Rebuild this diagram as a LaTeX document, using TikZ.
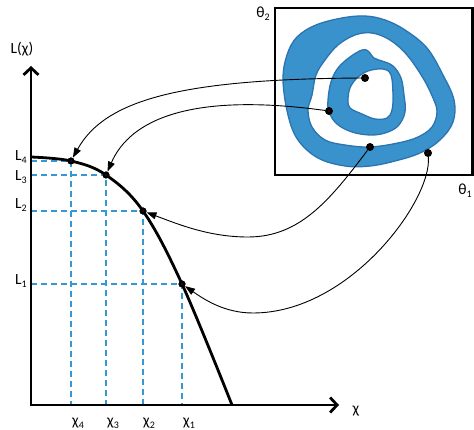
\documentclass[tikz,border=0pt]{standalone}
\usepackage{fontspec}
\setmainfont{Carlito}
\usetikzlibrary{arrows.meta}
\definecolor{ringblue}{RGB}{58,146,205}
\definecolor{ringedge}{RGB}{42,116,176}
\definecolor{gridblue}{RGB}{52,152,212}
\newcommand{\idx}[1]{\raisebox{-0.4ex}{\fontsize{10}{10}\selectfont #1}}

\begin{document}
\begin{tikzpicture}[
  x=1pt,
  y=-1pt,
  every node/.style={font=\fontsize{15.5}{15.5}\selectfont, inner sep=0pt},
  axis/.style={line width=2.8pt, {Straight Barb[length=7pt,width=15pt]}-{Straight Barb[length=7pt,width=15pt]}},
  lcurve/.style={line width=2.8pt},
  frame/.style={line width=2.8pt},
  guide/.style={gridblue, line width=1.1pt, dash pattern=on 6pt off 4pt},
  dot/.style={circle, fill=black, minimum size=8pt,
    path picture={\fill[red!85!black] (path picture bounding box.center) circle (0.7pt);}},
  link/.style={line width=0.9pt, -{Triangle[length=10pt,width=7pt]}},
  band/.style={fill=ringblue, draw=ringedge, line width=1.3pt, even odd rule}
]
\useasboundingbox (0,0) rectangle (474,430);

\coordinate (ytop) at (31,66);
\coordinate (o) at (31,405);
\coordinate (xend) at (339,405);

\draw[band] plot[smooth cycle, tension=0.6] coordinates {
  (283,80) (287,55) (297,37) (316,25) (342,18) (365,16) (385,20) (405,30)
  (427,48) (443,75) (454,100) (453,122) (440,140) (420,153) (395,161)
  (370,166) (345,166) (318,158) (298,140) (288,115)}
  plot[smooth cycle, tension=0.6] coordinates {
  (312,95) (316,75) (325,60) (338,45) (355,35) (372,33) (390,40) (407,55)
  (423,78) (433,98) (437,112) (432,127) (418,137) (398,143) (370,147)
  (345,145) (325,140) (312,127) (308,110)};
\draw[band] plot[smooth cycle, tension=0.6] coordinates {
  (328,100) (331,82) (338,68) (350,57) (362,50) (368,51) (374,58) (382,61)
  (393,66) (401,78) (404,95) (405,112) (398,126) (385,133) (370,135)
  (352,132) (337,124) (329,112)}
  plot[smooth cycle, tension=0.6] coordinates {
  (348,100) (350,88) (357,78) (368,71) (383,69) (391,75) (393,95)
  (392,110) (387,118) (375,119) (362,114) (350,108)};
\draw[frame] (275,8) rectangle (472.5,175);

\node (th2) at (263,14) {θ\idx{2}};
\node (th1) at (465,191) {θ\idx{1}};

\node[dot] (d1) at (365,78) {};
\node[dot] (d2) at (329,111) {};
\node[dot] (d3) at (370,147) {};
\node[dot] (d4) at (428,153) {};

\node[dot, minimum size=7pt] (p1) at (182,284) {};
\node[dot, minimum size=7pt] (p2) at (143,211) {};
\node[dot, minimum size=7pt] (p3) at (106,175) {};
\node[dot, minimum size=7pt] (p4) at (71,161) {};

\draw[guide] (o |- p1) -- (p1.center) -- (p1 |- o);
\draw[guide] (o |- p2) -- (p2.center) -- (p2 |- o);
\draw[guide] (o |- p3) -- (p3.center) -- (p3 |- o);
\draw[guide] (o |- p4) -- (p4.center) -- (p4 |- o);

\draw[axis] (ytop) -- (o) -- (xend);
\draw[lcurve] plot[smooth, tension=0.6] coordinates {
  (31,157) (71,161) (106,175) (143,211) (182,284) (232,405)};

\node[dot, minimum size=7pt] at (p1) {};
\node[dot, minimum size=7pt] at (p2) {};
\node[dot, minimum size=7pt] at (p3) {};
\node[dot, minimum size=7pt] at (p4) {};

\node (ly) at (22,49) {L(χ)};
\node (lx) at (356,411) {χ};
\node (l4) at (21,157) {L\idx{4}};
\node (l3) at (21,177) {L\idx{3}};
\node (l2) at (21,205) {L\idx{2}};
\node (l1) at (21,281) {L\idx{1}};
\node (x4) at (78,423) {χ\idx{4}};
\node (x3) at (113,423) {χ\idx{3}};
\node (x2) at (149,423) {χ\idx{2}};
\node (x1) at (189,423) {χ\idx{1}};

\draw[link] (d1) .. controls (180,79) and (105,100) .. (p4);
\draw[link] (d2) .. controls (190,92) and (130,120) .. (p3);
\draw[link] (d3) .. controls (330,200) and (300,237) .. (248,237)
  .. controls (210,237) and (180,225) .. (p2);
\draw[link] (d4) .. controls (432,200) and (350,313) .. (253,313)
  .. controls (225,313) and (205,300) .. (p1);
\end{tikzpicture}
\end{document}
